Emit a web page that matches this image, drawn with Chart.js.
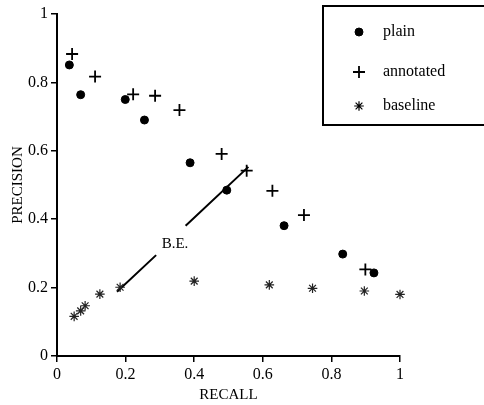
<!DOCTYPE html>
<html>
<head>
<meta charset="utf-8">
<script src="https://cdn.jsdelivr.net/npm/chart.js@4/dist/chart.umd.min.js"></script>
<style>
  body { margin: 0; background: #fff; }
</style>
</head>
<body>
<canvas id="prchart" width="484" height="405"></canvas>
<script>
'use strict';
const plainRecall = [0.036, 0.069, 0.199, 0.255, 0.388, 0.495, 0.662, 0.833, 0.924];
const plainPrecision = [0.851, 0.764, 0.750, 0.690, 0.565, 0.485, 0.381, 0.298, 0.243];

const annotatedRecall = [0.044, 0.111, 0.222, 0.286, 0.357, 0.480, 0.553, 0.628, 0.720, 0.899];
const annotatedPrecision = [0.883, 0.817, 0.765, 0.761, 0.719, 0.591, 0.542, 0.483, 0.412, 0.253];

const baselineRecall = [0.050, 0.069, 0.082, 0.125, 0.184, 0.400, 0.619, 0.745, 0.896, 1.0];
const baselinePrecision = [0.116, 0.132, 0.147, 0.181, 0.201, 0.219, 0.208, 0.198, 0.190, 0.180];

// break-even line, gap left for the label
const beRecall = [0.175, 0.289, 0.33, 0.375, 0.558];
const bePrecision = [0.188, 0.295, null, 0.381, 0.553];
const beLabel = 'B.E.';
const beLabelAt = [0.344, 0.327];

const axisTicks = [0, 0.2, 0.4, 0.6, 0.8, 1];
const axisTickLabels = ['0', '0.2', '0.4', '0.6', '0.8', '1'];

const pts = (xs, ys) => xs.map((x, i) => ({x: x, y: ys[i]}));
const serif = '"Liberation Serif", "DejaVu Serif", serif';

const extras = {
    id: 'extras',
    afterDraw(chart) {
        const ctx = chart.ctx;
        const xs = chart.scales.x, ys = chart.scales.y;
        ctx.save();
        // B.E. label
        ctx.fillStyle = '#000';
        ctx.font = '15px ' + serif;
        ctx.textAlign = 'center';
        ctx.textBaseline = 'middle';
        ctx.fillText(beLabel, xs.getPixelForValue(beLabelAt[0]), ys.getPixelForValue(beLabelAt[1]));

        // legend box
        ctx.lineWidth = 2;
        ctx.strokeStyle = '#000';
        ctx.strokeRect(323, 6, 200, 119);
        const rows = [32, 72, 106];
        ctx.font = '16px ' + serif;
        ctx.textAlign = 'left';
        for (let i = 0; i < 3; i++) {
            const ds = chart.data.datasets[i];
            ctx.fillStyle = '#000';
            ctx.strokeStyle = '#000';
            ctx.lineWidth = ds.borderWidth;
            Chart.helpers.drawPoint(ctx, {
                pointStyle: ds.pointStyle,
                radius: ds.pointRadius,
                rotation: 0,
                borderWidth: ds.borderWidth
            }, 359, rows[i]);
            ctx.fillText(ds.label, 383, rows[i]);
        }
        ctx.restore();
    }
};

const axisStyle = {
    min: 0,
    max: 1,
    afterBuildTicks: s => { s.ticks = axisTicks.map(v => ({value: v})); },
    grid: {drawOnChartArea: false, drawTicks: true, tickLength: 6, color: '#000', lineWidth: 1.5},
    border: {display: true, color: '#000', width: 2},
    ticks: {
        color: '#000',
        font: {family: serif, size: 16},
        padding: 3,
        callback: (v, i) => axisTickLabels[i]
    }
};

new Chart(document.querySelector('#prchart'), {
    type: 'scatter',
    data: {
        datasets: [{
            label: 'plain',
            data: pts(plainRecall, plainPrecision),
            pointStyle: 'circle',
            pointRadius: 4,
            borderWidth: 1,
            backgroundColor: '#000',
            borderColor: '#000',
            clip: false
        },
        {
            label: 'annotated',
            data: pts(annotatedRecall, annotatedPrecision),
            pointStyle: 'cross',
            pointRadius: 6,
            borderWidth: 1.8,
            backgroundColor: '#000',
            borderColor: '#000',
            clip: false
        },
        {
            label: 'baseline',
            data: pts(baselineRecall, baselinePrecision),
            pointStyle: 'star',
            pointRadius: 4.8,
            borderWidth: 1.2,
            backgroundColor: '#000',
            borderColor: '#222',
            clip: false
        },
        {
            label: 'break-even',
            data: pts(beRecall, bePrecision),
            showLine: true,
            spanGaps: false,
            pointRadius: 0,
            borderWidth: 2,
            borderColor: '#000',
            clip: false
        }
    ]},
    options: {
        responsive: false,
        animation: false,
        layout: {padding: {top: 14, right: 84, left: 0, bottom: 0}},
        plugins: {
            legend: {display: false},
            tooltip: {enabled: false}
        },
        scales: {
            x: Object.assign({}, axisStyle, {
                afterFit: s => { s.height = 49; },
                title: {display: true, text: 'RECALL', color: '#000', font: {family: serif, size: 15}, padding: {top: 0, bottom: 1}}
            }),
            y: Object.assign({}, axisStyle, {
                afterFit: s => { s.width = 57; },
                title: {display: true, text: 'PRECISION', color: '#000', font: {family: serif, size: 15}, padding: {top: 9, bottom: 0}}
            })
        }
    },
    plugins: [extras]
});
</script>
</body>
</html>
